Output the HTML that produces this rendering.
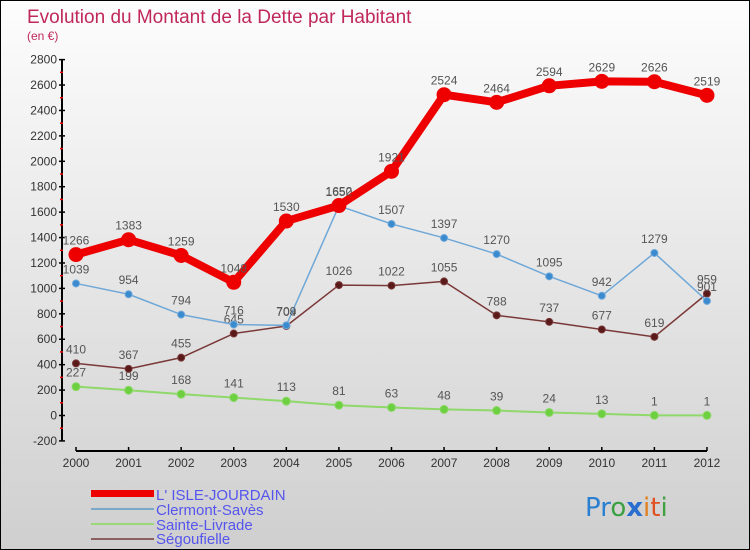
<!DOCTYPE html>
<html><head><meta charset="utf-8"><style>
body{margin:0;}
#wrap{width:750px;height:550px;position:relative;box-sizing:border-box;border:1px solid #000;background:linear-gradient(#fdfdfd,#cfcfcf);font-family:"Liberation Sans",sans-serif;overflow:hidden}
</style></head><body>
<div id="wrap">
<svg id="c" width="750" height="550">
<text x="26" y="22" font-size="19" fill="#c0285a">Evolution du Montant de la Dette par Habitant</text>
<text x="26" y="39" font-size="12" fill="#c0285a">(en €)</text>
<g id="axes"></g><g id="series"></g>
<g>
<rect x="90" y="489" width="63" height="7" fill="#e00"/>
<text x="155" y="499" font-size="15" fill="#5555ee">L' ISLE-JOURDAIN</text>
<rect x="90" y="507" width="63" height="2" fill="#7aa8c8"/>
<text x="155" y="514" font-size="15" fill="#5555ee">Clermont-Savès</text>
<rect x="90" y="522" width="63" height="2" fill="#9bd87a"/>
<text x="155" y="529" font-size="15" fill="#5555ee">Sainte-Livrade</text>
<rect x="90" y="537" width="63" height="2" fill="#8a6060"/>
<text x="155" y="543" font-size="15" fill="#5555ee">Ségoufielle</text>
</g>
<text x="584" y="515" font-size="26" font-family="DejaVu Sans"><tspan fill="#2a7fd0">Pr</tspan><tspan fill="#3aa040">o</tspan><tspan fill="#2a6fd0" font-weight="bold">x</tspan><tspan fill="#e08020">i</tspan><tspan fill="#e05020">t</tspan><tspan fill="#40a040">i</tspan></text>
</svg></div>
<script>
const years=[2000,2001,2002,2003,2004,2005,2006,2007,2008,2009,2010,2011,2012];
const isle=[1266,1383,1259,1048,1530,1652,1921,2524,2464,2594,2629,2626,2519];
const clermont=[1039,954,794,716,709,1650,1507,1397,1270,1095,942,1279,901];
const sainte=[227,199,168,141,113,81,63,48,39,24,13,1,1];
const segou=[410,367,455,645,704,1026,1022,1055,788,737,677,619,959];
const yTicks=[-200,0,200,400,600,800,1000,1200,1400,1600,1800,2000,2200,2400,2600,2800];
const NS="http://www.w3.org/2000/svg";
const X=i=>75+i*52.58, Y=v=>414.5-v*0.1271;
function mk(t,a,p){const e=document.createElementNS(NS,t);for(const k in a)e.setAttribute(k,a[k]);p.appendChild(e);return e;}
const ax=document.getElementById('axes');
mk('line',{x1:61,y1:Y(2800),x2:61,y2:Y(-200),stroke:'#000','stroke-width':2},ax);
mk('line',{x1:75,y1:450,x2:706,y2:450,stroke:'#000','stroke-width':2},ax);
yTicks.forEach((v,k)=>{
 mk('line',{x1:58,y1:Y(v),x2:64,y2:Y(v),stroke:'#000','stroke-width':1.5},ax);
 if(k<yTicks.length-1) mk('line',{x1:59,y1:Y(v+100),x2:62,y2:Y(v+100),stroke:'#e00','stroke-width':1.5},ax);
 const t=mk('text',{x:56,y:Y(v)+4,'font-size':12,'text-anchor':'end',fill:'#333'},ax);t.textContent=v;
 
 
});
years.forEach((yr,i)=>{
 mk('line',{x1:X(i),y1:446,x2:X(i),y2:450,stroke:'#000','stroke-width':1.5},ax);
 const t=mk('text',{x:X(i),y:466,'font-size':12,'text-anchor':'middle',fill:'#333'},ax);t.textContent=yr;
 
 
});
const sg=document.getElementById('series');
function series(vals,col,w,r,fill,name){
 const g=mk('g',{},sg);
 
 
 mk('polyline',{points:vals.map((v,i)=>X(i)+','+Y(v)).join(' '),fill:'none',stroke:col,'stroke-width':w,'stroke-linejoin':'round'},g);
 vals.forEach((v,i)=>{
  const c=mk('circle',{cx:X(i),cy:Y(v),r:r,fill:fill,stroke:col,'stroke-width':1},g);
  
  
  const t=mk('text',{x:X(i),y:Y(v)-10,'font-size':12,'text-anchor':'middle',fill:'#555'},g);t.textContent=v;
  
  
 });
}
series(sainte,'#8fd86a',2,4,'#6cd040','sainte-livrade-series');
series(segou,'#7a3838',1.5,3.5,'#5a1a1a','segoufielle-series');
series(clermont,'#6fa8d8',1.5,3.5,'#3a8ad0','clermont-saves-series');
series(isle,'#ee0000',8,7,'#ee0000','isle-jourdain-series');
</script>
</body></html>
